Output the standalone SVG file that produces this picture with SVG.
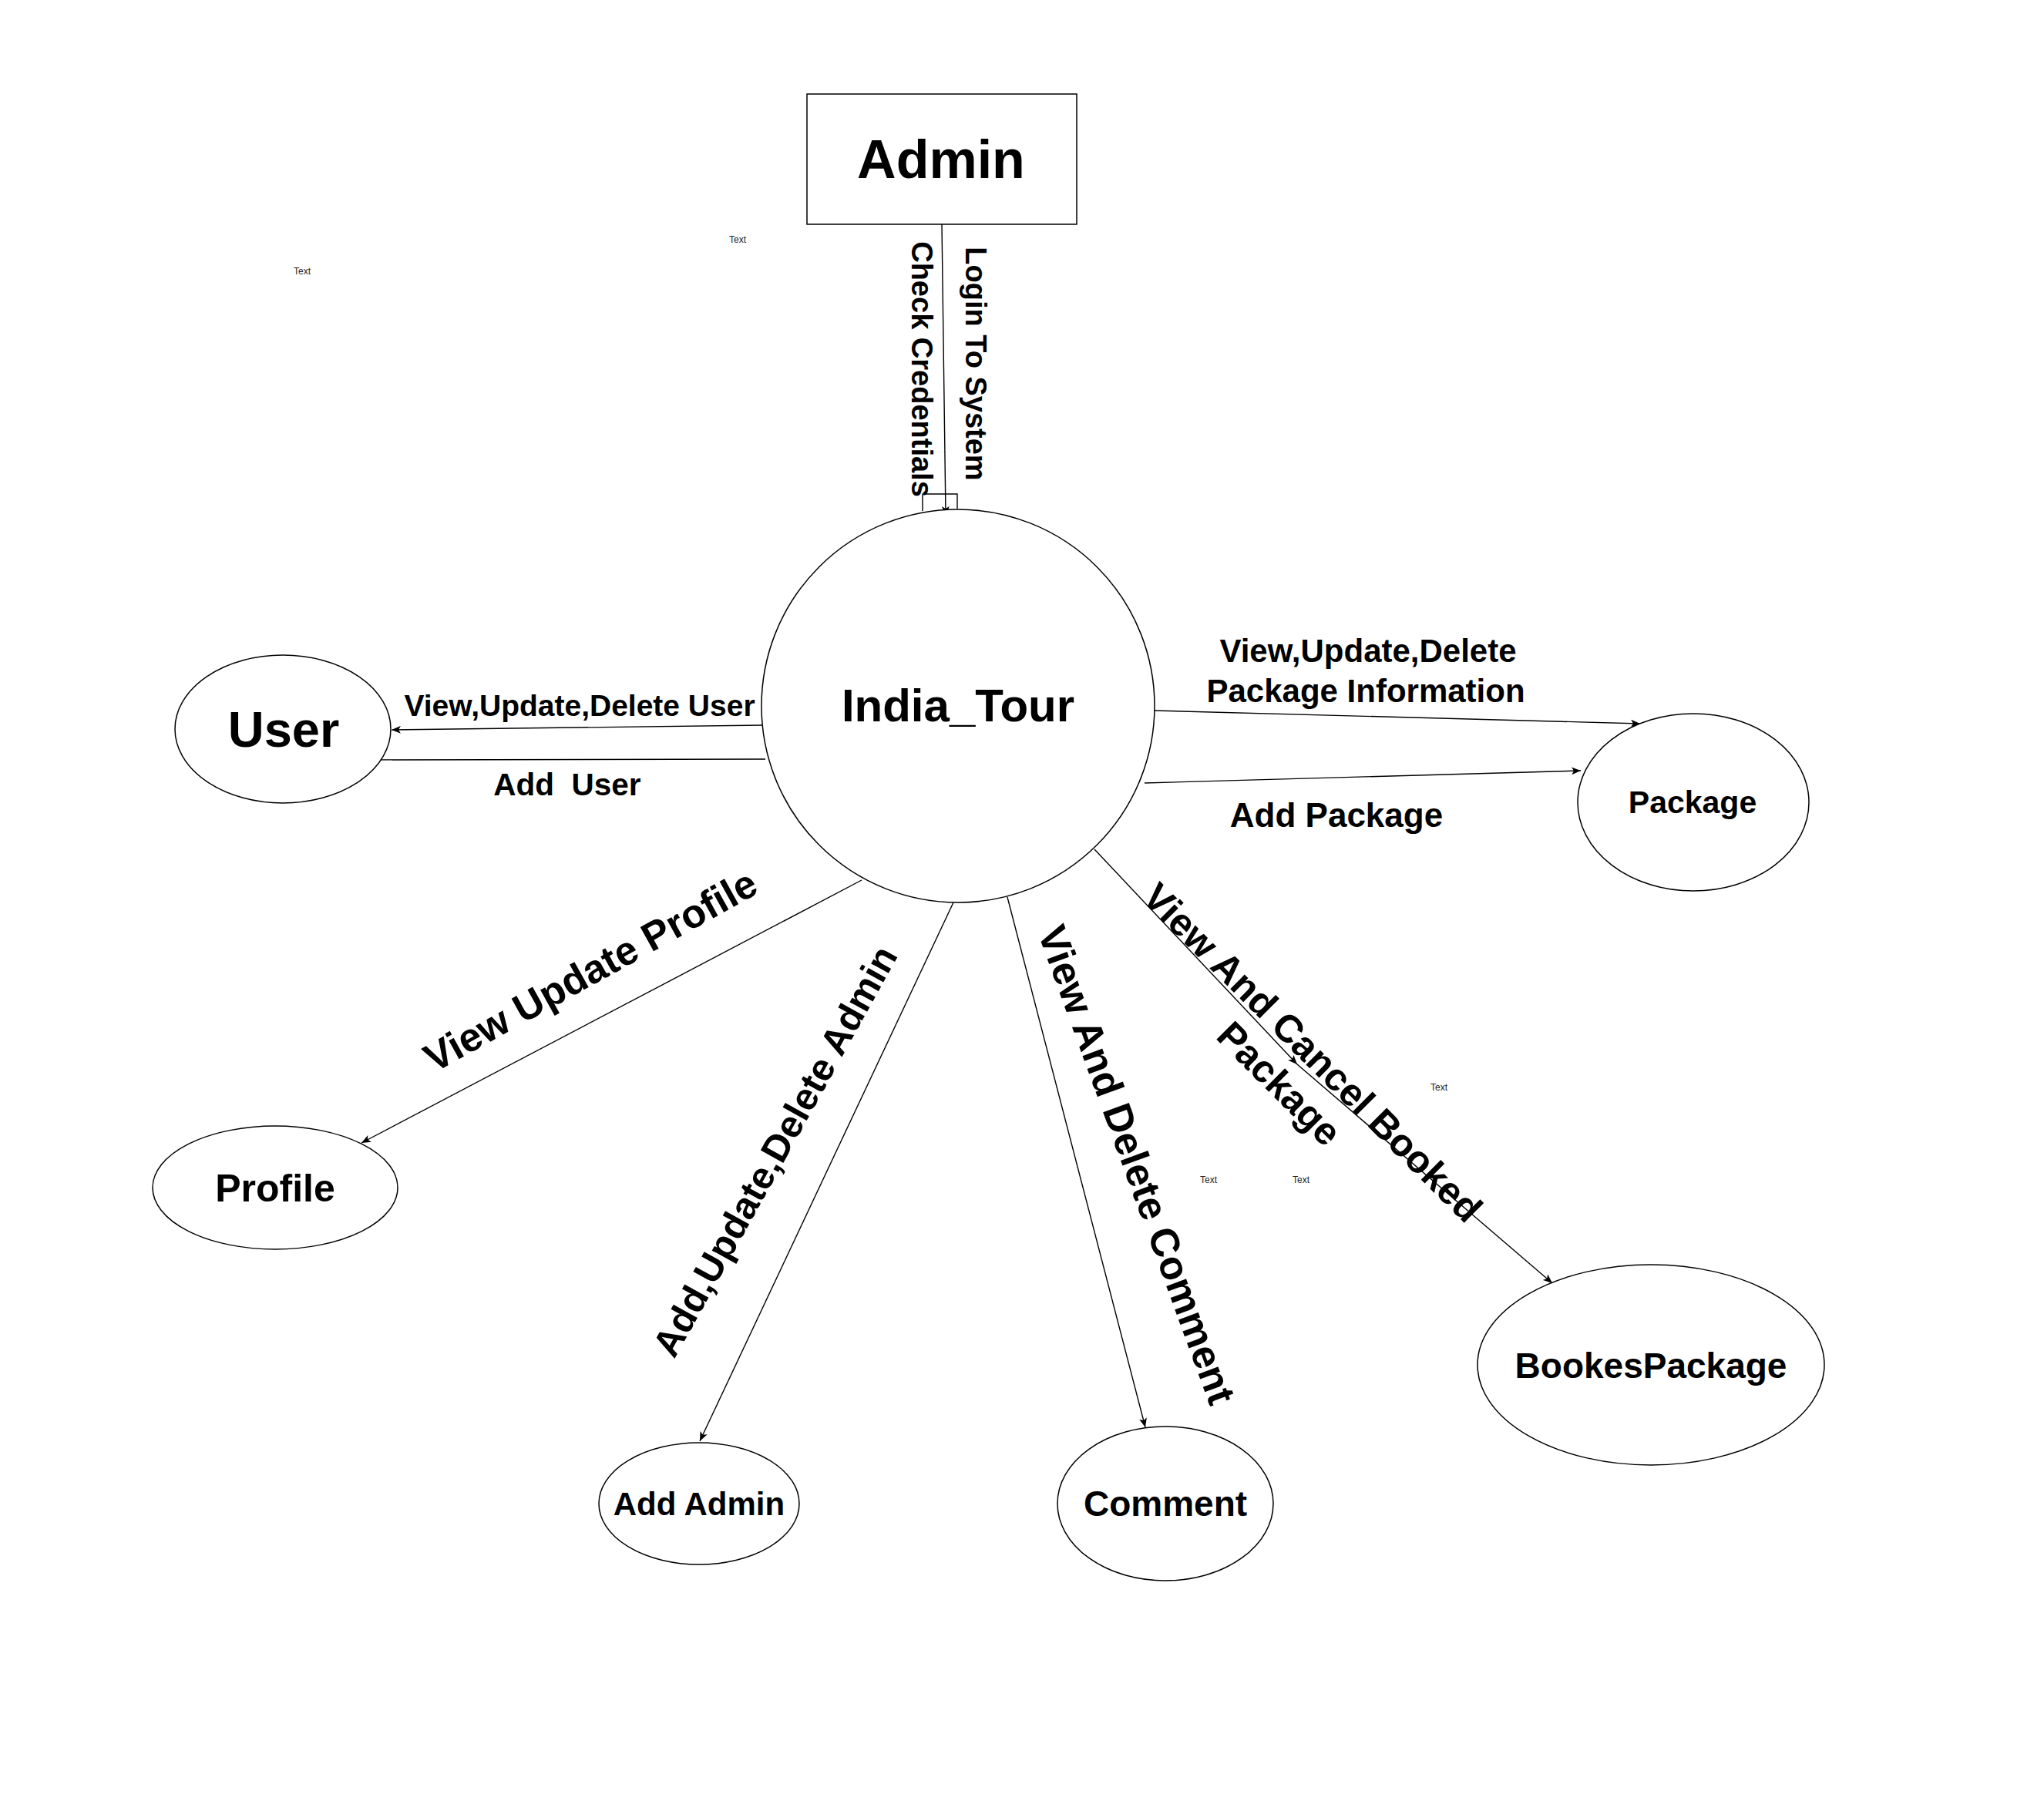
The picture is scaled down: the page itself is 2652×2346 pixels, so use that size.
<svg xmlns="http://www.w3.org/2000/svg" width="2652" height="2346" viewBox="0 0 2652 2346">
<style>
.node{fill:#ffffff;stroke:#000000;stroke-width:1.5}
.lbl{font-family:"Liberation Sans",Arial,Helvetica,sans-serif;font-weight:bold;fill:#000000;text-anchor:middle}
.edge{fill:none;stroke:#000000;stroke-width:1.4}
.small{font-family:"Liberation Sans",Arial,Helvetica,sans-serif;font-size:12px;fill:#222222;text-anchor:middle}
</style>
<defs>
<marker id="arr" viewBox="0 0 12 10" refX="12" refY="5" markerWidth="12" markerHeight="10" markerUnits="userSpaceOnUse" orient="auto">
<path d="M0,0 L12,5 L0,10 L3,5 Z" fill="#000000"/>
</marker>
</defs>
<rect width="2652" height="2346" fill="#ffffff"/>

<g id="connectors">
<line class="edge" x1="1222" y1="291" x2="1227" y2="669" marker-end="url(#arr)"/>
<path class="edge" d="M1197,663 V641 H1242 V660"/>
<line class="edge" x1="989" y1="941" x2="508" y2="947" marker-end="url(#arr)"/>
<line class="edge" x1="993" y1="985" x2="469" y2="986" marker-end="url(#arr)"/>
<line class="edge" x1="1497" y1="922" x2="2128" y2="939" marker-end="url(#arr)"/>
<line class="edge" x1="1485" y1="1016" x2="2051" y2="1000" marker-end="url(#arr)"/>
<line class="edge" x1="1118" y1="1142" x2="469" y2="1483" marker-end="url(#arr)"/>
<line class="edge" x1="1237" y1="1171" x2="908" y2="1870" marker-end="url(#arr)"/>
<line class="edge" x1="1307" y1="1164" x2="1486" y2="1852" marker-end="url(#arr)"/>
<line class="edge" x1="1420" y1="1102" x2="1683" y2="1381" marker-end="url(#arr)"/>
<line class="edge" x1="1683" y1="1381" x2="2014" y2="1665" marker-end="url(#arr)"/>
</g>

<g id="edge-labels">
<text class="lbl" font-size="38" transform="translate(1253,472) rotate(90)">Login To System</text>
<text class="lbl" font-size="38" transform="translate(1183,479) rotate(90)">Check Credentials</text>
<text class="lbl" font-size="39" x="752" y="929">View,Update,Delete User</text>
<text class="lbl" font-size="40.5" x="736" y="1032" xml:space="preserve">Add  User</text>
<text class="lbl" font-size="42" x="1775" y="859">View,Update,Delete</text>
<text class="lbl" font-size="42" x="1772" y="911">Package Information</text>
<text class="lbl" font-size="44" x="1734" y="1073">Add Package</text>
<text class="lbl" font-size="52" transform="translate(767,1261) rotate(-29)" y="16">View Update Profile</text>
<text class="lbl" font-size="49" transform="translate(1008,1495) rotate(-61)" y="14">Add,Update,Delete Admin</text>
<text class="lbl" font-size="52" transform="translate(1476,1511) rotate(70)" y="19">View And Delete Comment</text>
<text class="lbl" font-size="50" transform="translate(1681,1385) rotate(45)"><tspan x="2" y="-12">View And Cancel Booked</tspan><tspan x="0" y="47">Package</tspan></text>
</g>

<g id="node-admin">
<rect class="node" x="1047" y="122" width="350" height="169"/>
<text class="lbl" font-size="70" x="1221" y="231">Admin</text>
</g>
<g id="node-india-tour">
<circle class="node" cx="1243" cy="916" r="255"/>
<text class="lbl" font-size="60" x="1243" y="936">India_Tour</text>
</g>
<g id="node-user">
<ellipse class="node" cx="367" cy="946" rx="140" ry="96"/>
<text class="lbl" font-size="65" x="368" y="969">User</text>
</g>
<g id="node-package">
<ellipse class="node" cx="2197" cy="1041" rx="150" ry="115"/>
<text class="lbl" font-size="41" x="2196" y="1055">Package</text>
</g>
<g id="node-profile">
<ellipse class="node" cx="357" cy="1541" rx="159" ry="80"/>
<text class="lbl" font-size="50" x="357" y="1559">Profile</text>
</g>
<g id="node-add-admin">
<ellipse class="node" cx="907" cy="1951" rx="130" ry="79"/>
<text class="lbl" font-size="42" x="907" y="1966">Add Admin</text>
</g>
<g id="node-comment">
<ellipse class="node" cx="1512" cy="1951" rx="140" ry="100"/>
<text class="lbl" font-size="46" x="1512" y="1967">Comment</text>
</g>
<g id="node-bookespackage">
<ellipse class="node" cx="2142" cy="1771" rx="225" ry="130"/>
<text class="lbl" font-size="46" x="2142" y="1788">BookesPackage</text>
</g>

<g id="free-text">
<text class="small" x="957" y="315">Text</text>
<text class="small" x="392" y="356">Text</text>
<text class="small" x="1867" y="1415">Text</text>
<text class="small" x="1568" y="1535">Text</text>
<text class="small" x="1688" y="1535">Text</text>
</g>
</svg>
